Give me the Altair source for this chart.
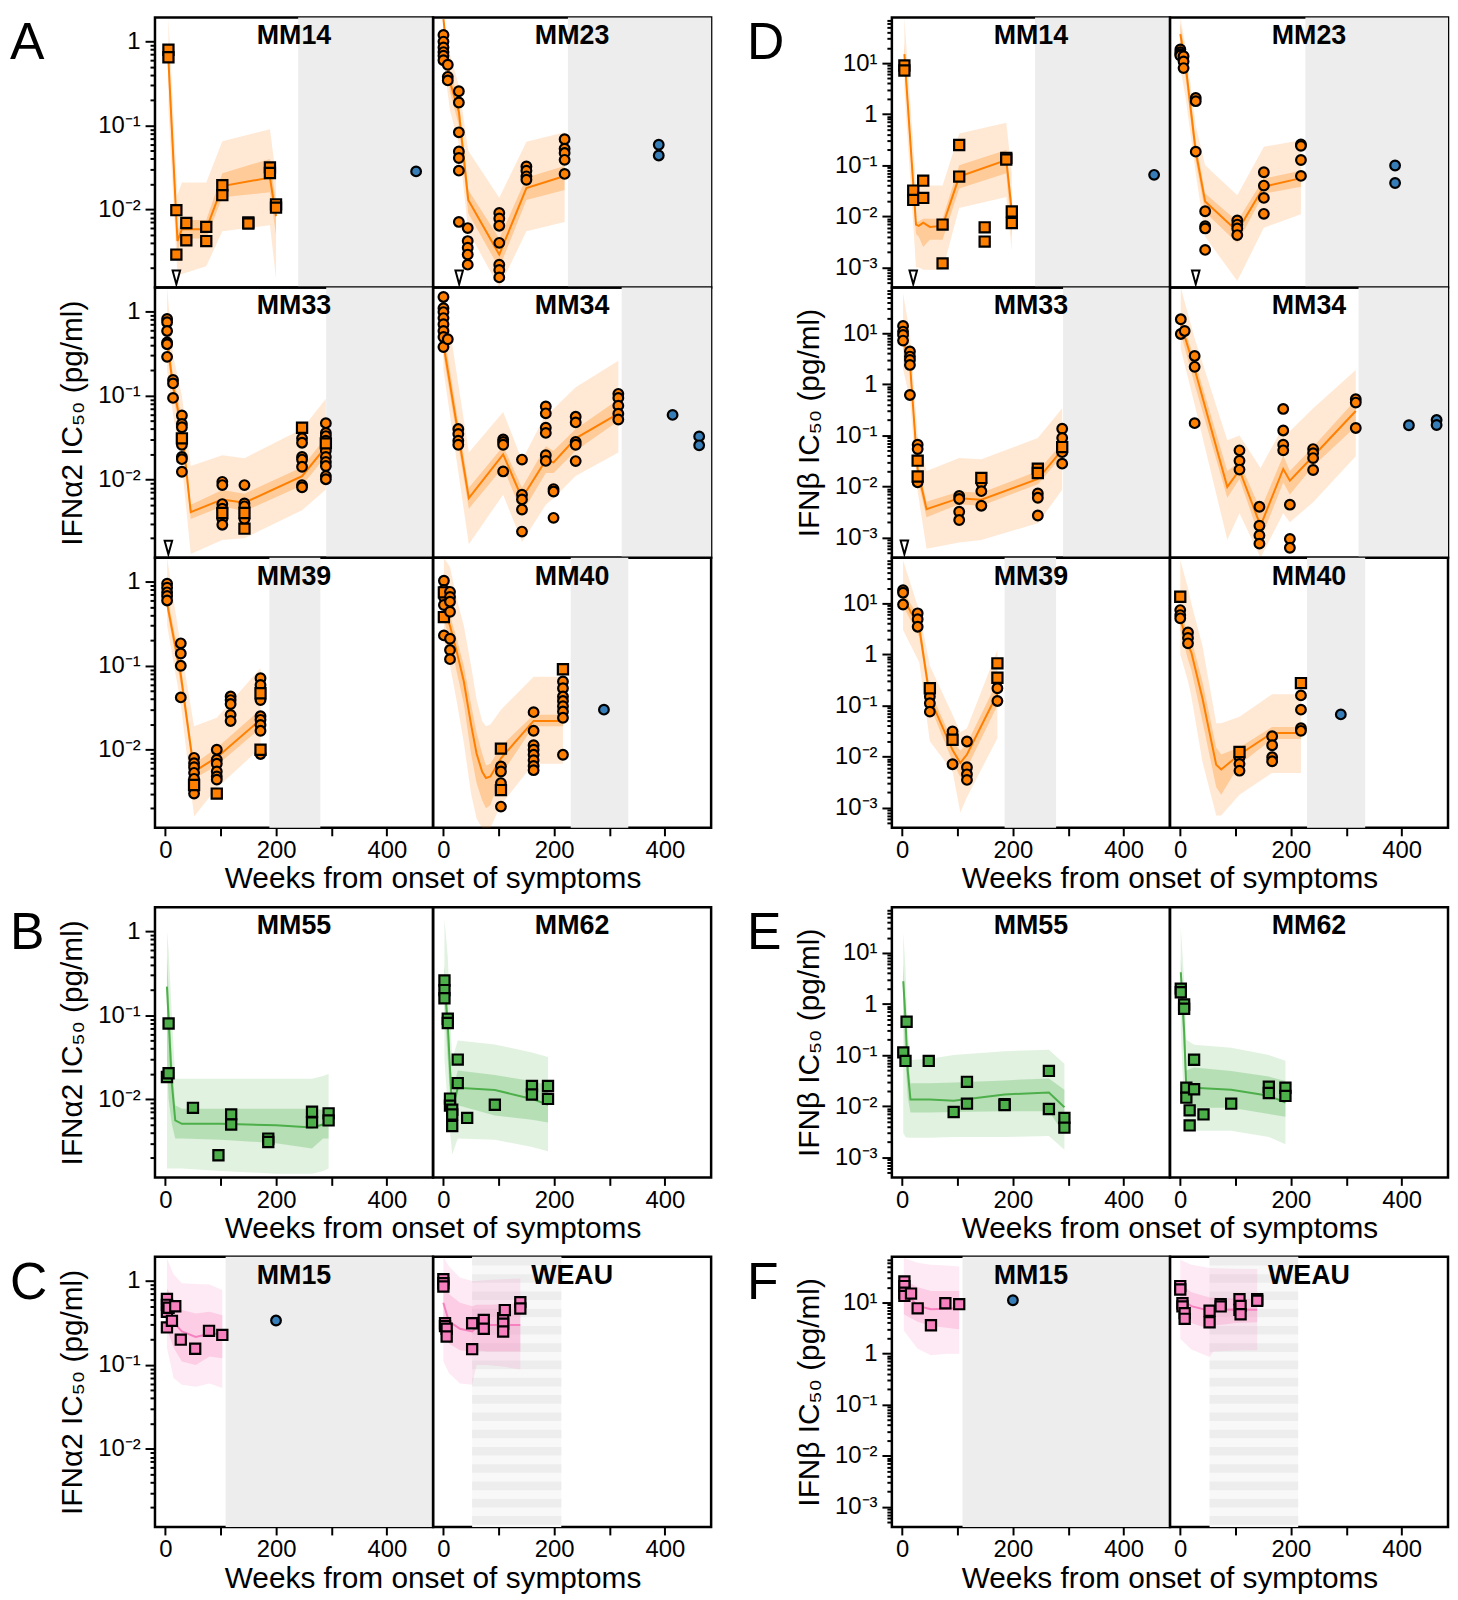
import altair as alt
import pandas as pd

FONT = "Liberation Sans"
ORANGE = "#FF7F00"
GREEN = "#4DAF4A"
PINK = "#F781BF"
BLUE = "#377EB8"
GRAY = "#EDEDED"

W, H = 280, 272
GAP_X, GAP_Y = 182, 80
XDOM = [-18.6, 483.6]
XTICKS = [0, 100, 200, 300, 400]
YDOM_A = [10 ** -2.931, 10 ** 0.2876]
YDOM_B = [10 ** -3.395, 10 ** 1.895]
YLAB_A = [(1, "1"), (0.1, "10⁻¹"), (0.01, "10⁻²")]
YLAB_B = [(10, "10¹"), (1, "1"), (0.1, "10⁻¹"), (0.01, "10⁻²"), (0.001, "10⁻³")]
TRI_Y_A = 0.00155
TRI_Y_B = 0.00064
TITLE_A = "IFNα2 IC₅₀ (pg/ml)"
TITLE_B = "IFNβ IC₅₀ (pg/ml)"
XTITLE = "Weeks from onset of symptoms"

# fit rows: (week, fit, inner_lo, inner_hi, outer_lo, outer_hi)
# points: (week, shape c/s, [values])

# ---------------- A : IFNa2, orange ----------------
A_MM14_FIT = [(5.7, 0.6, 0.35, 1.0, 0.15, 3.0), (22, 0.0042, 0.0032, 0.0055, 0.0016, 0.015),
              (30, 0.0058, 0.0045, 0.0075, 0.0017, 0.021), (74, 0.0058, 0.0045, 0.0075, 0.0021, 0.021),
              (103, 0.019, 0.014, 0.027, 0.0055, 0.065), (189, 0.024, 0.016, 0.04, 0.0065, 0.09),
              (200, 0.0083, 0.005, 0.012, 0.0015, 0.025)]
A_MM14_PTS = [(5.7, "s", [0.8, 0.65]), (20, "s", [0.0098, 0.0029]), (38, "s", [0.0069, 0.0043]),
              (74, "s", [0.0062, 0.0042]), (103, "s", [0.0194, 0.0148]), (150, "s", [0.0070, 0.0068]),
              (189, "s", [0.0317, 0.0272]), (200, "s", [0.0115, 0.0105])]
A_MM14_GRAY = (240, 600)
A_MM14_BLUE = [(453, 0.0284)]
A_MM14_TRI = [20]

A_MM23_FIT = [(0.2, 1.85, 1.2, 2.5, 0.6, 4.0), (12, 0.33, 0.25, 0.45, 0.15, 0.7),
              (28, 0.146, 0.1, 0.2, 0.06, 0.3), (45, 0.013, 0.009, 0.017, 0.0055, 0.05),
              (101, 0.0029, 0.002, 0.0045, 0.0011, 0.0138), (150, 0.018, 0.013, 0.024, 0.0055, 0.064),
              (219, 0.025, 0.017, 0.033, 0.0071, 0.083)]
A_MM23_PTS = [(0.2, "c", [1.2, 1.0, 0.85, 0.75, 0.68, 0.6]), (8, "c", [0.53, 0.38, 0.345]),
              (28, "c", [0.256, 0.188, 0.083, 0.049, 0.041, 0.029, 0.0071]),
              (44, "c", [0.006, 0.0042, 0.0035, 0.0029, 0.0022]),
              (101, "c", [0.0091, 0.0078, 0.0064, 0.0040, 0.0022, 0.0019, 0.00155]),
              (150, "c", [0.0326, 0.029, 0.0248, 0.0226]),
              (219, "c", [0.0686, 0.053, 0.047, 0.039, 0.0265])]
A_MM23_GRAY = (225, 600)
A_MM23_BLUE = [(389, 0.059), (389, 0.044)]
A_MM23_TRI = [28.6]

A_MM33_FIT = [(3.3, 0.45, 0.32, 0.65, 0.2, 3.0), (14, 0.13, 0.1, 0.17, 0.06, 0.3),
              (30, 0.04, 0.03, 0.055, 0.015, 0.1), (46, 0.0041, 0.0034, 0.005, 0.0013, 0.0145),
              (103, 0.0058, 0.0048, 0.0075, 0.0019, 0.0195), (143, 0.0053, 0.0042, 0.0068, 0.002, 0.018),
              (247, 0.011, 0.0085, 0.014, 0.0043, 0.04), (290, 0.0245, 0.019, 0.032, 0.0076, 0.092)]
A_MM33_PTS = [(3.3, "c", [0.82, 0.75, 0.59, 0.43, 0.41, 0.29]), (14, "c", [0.154, 0.14, 0.094]),
              (30, "c", [0.058, 0.046, 0.042, 0.026, 0.0186, 0.0175, 0.0124]), (30, "s", [0.031]),
              (103, "c", [0.0094, 0.0086, 0.0051, 0.0045, 0.0034, 0.0029]), (103, "s", [0.0040]),
              (143, "c", [0.0086, 0.0052, 0.0048, 0.0034]), (143, "s", [0.0040, 0.0026]),
              (247, "c", [0.031, 0.0275, 0.0186, 0.0173, 0.0142, 0.0086, 0.0081]), (247, "s", [0.0415]),
              (290, "c", [0.047, 0.036, 0.033, 0.029, 0.022, 0.0186, 0.0162, 0.0145, 0.011, 0.0101]),
              (290, "s", [0.027])]
A_MM33_GRAY = (290.6, 600)
A_MM33_BLUE = []
A_MM33_TRI = [5.6]

A_MM34_FIT = [(0.2, 0.41, 0.3, 0.6, 0.2, 3.0), (46, 0.006, 0.0045, 0.008, 0.0017, 0.021),
              (108, 0.02, 0.014, 0.025, 0.0066, 0.064), (142, 0.006, 0.004, 0.008, 0.0018, 0.017),
              (185, 0.017, 0.012, 0.025, 0.005, 0.06), (199, 0.016, 0.012, 0.022, 0.006, 0.07),
              (239, 0.031, 0.022, 0.04, 0.011, 0.126), (316, 0.061, 0.05, 0.09, 0.021, 0.26)]
A_MM34_PTS = [(0.2, "c", [1.5, 1.1, 0.99, 0.84, 0.71, 0.59, 0.5, 0.38]), (8, "c", [0.47]),
              (27, "c", [0.040, 0.035, 0.029, 0.026]), (108, "c", [0.030, 0.028, 0.026, 0.0125]),
              (142, "c", [0.0173, 0.0066, 0.0058, 0.0044, 0.0024]),
              (185, "c", [0.0745, 0.0615, 0.0415, 0.036, 0.0195, 0.0167]),
              (199, "c", [0.0077, 0.0072, 0.0035]), (239, "c", [0.056, 0.048, 0.028, 0.026, 0.0166]),
              (316, "c", [0.105, 0.094, 0.076, 0.061, 0.052])]
A_MM34_GRAY = (322, 600)
A_MM34_BLUE = [(414, 0.059), (462, 0.0327), (462, 0.0256)]
A_MM34_TRI = []

A_MM39_FIT = [(3.3, 0.55, 0.45, 0.7, 0.3, 3.0), (28, 0.078, 0.06, 0.1, 0.035, 0.17),
              (52, 0.0055, 0.0045, 0.0068, 0.0016, 0.019), (93, 0.0081, 0.0065, 0.0105, 0.0035, 0.024),
              (172, 0.0228, 0.018, 0.03, 0.0105, 0.094)]
A_MM39_PTS = [(3.3, "c", [0.95, 0.85, 0.75, 0.68, 0.6]), (28, "c", [0.185, 0.14, 0.10, 0.042]),
              (52, "c", [0.0080, 0.0069, 0.0062, 0.0053, 0.0045, 0.0034, 0.0030]), (52, "s", [0.0038]),
              (93, "c", [0.010, 0.0076, 0.0068, 0.0055, 0.0048, 0.0044]), (93, "s", [0.0030]),
              (118, "c", [0.043, 0.039, 0.035, 0.026, 0.022]),
              (172, "c", [0.071, 0.059, 0.039, 0.025, 0.0227, 0.0197, 0.0168, 0.0089]),
              (172, "s", [0.047, 0.010])]
A_MM39_GRAY = (188, 280)
A_MM39_BLUE = []
A_MM39_TRI = []

A_MM40_FIT = [(1, 0.48, 0.35, 0.65, 0.2, 3.0), (12, 0.3, 0.2, 0.4, 0.1, 1.5),
              (25, 0.14, 0.08, 0.2, 0.035, 0.6), (37, 0.065, 0.035, 0.1, 0.012, 0.3),
              (50, 0.02, 0.009, 0.035, 0.003, 0.1), (60, 0.009, 0.004, 0.016, 0.0015, 0.04),
              (70, 0.0055, 0.0025, 0.009, 0.0011, 0.022), (77, 0.0046, 0.002, 0.0065, 0.001, 0.019),
              (85, 0.0048, 0.0022, 0.0068, 0.001, 0.02), (104, 0.0079, 0.005, 0.011, 0.0022, 0.03),
              (163, 0.022, 0.019, 0.026, 0.0068, 0.074), (216, 0.022, 0.019, 0.026, 0.0068, 0.074)]
A_MM40_PTS = [(1, "c", [1.03, 0.8, 0.66, 0.53, 0.23]), (1, "s", [0.75, 0.38]),
              (12, "c", [0.76, 0.66, 0.58, 0.44, 0.21, 0.154, 0.12]),
              (104, "c", [0.0063, 0.0055, 0.0040, 0.0021]), (104, "s", [0.0103, 0.0033]),
              (163, "c", [0.028, 0.0168, 0.0113, 0.010, 0.0087, 0.0075, 0.0064, 0.0057]),
              (216, "c", [0.065, 0.054, 0.043, 0.038, 0.033, 0.0285, 0.024, 0.0087]), (216, "s", [0.091])]
A_MM40_GRAY = (230, 334)
A_MM40_BLUE = [(290, 0.030)]
A_MM40_TRI = []

# ---------------- D : IFNb, orange ----------------
D_MM14_FIT = [(4, 15, 9, 25, 3, 80), (25, 0.0069, 0.0045, 0.0075, 0.001, 0.04),
              (30, 0.0065, 0.004, 0.008, 0.001, 0.045), (38, 0.0075, 0.0025, 0.009, 0.0009, 0.04),
              (50, 0.0062, 0.0035, 0.009, 0.0009, 0.04), (73, 0.0065, 0.0035, 0.009, 0.0009, 0.04),
              (103, 0.06, 0.035, 0.1, 0.0145, 0.42), (188, 0.127, 0.07, 0.2, 0.024, 0.68),
              (198, 0.0125, 0.004, 0.02, 0.0021, 0.07)]
D_MM14_PTS = [(4, "s", [9.0, 7.2]), (20, "s", [0.032, 0.021]), (38, "s", [0.050, 0.023]),
              (73, "s", [0.0069, 0.0012]), (103, "s", [0.25, 0.060]), (149, "s", [0.0061, 0.0032]),
              (188, "s", [0.14, 0.13]), (198, "s", [0.0125, 0.0074])]
D_MM14_GRAY = (240, 600)
D_MM14_BLUE = [(455, 0.065)]
D_MM14_TRI = [20]

D_MM23_FIT = [(0.2, 37, 20, 60, 8, 100), (10, 8.5, 5, 12, 2, 20), (28, 0.185, 0.12, 0.3, 0.07, 0.6),
              (45, 0.0195, 0.012, 0.028, 0.004, 0.1), (103, 0.0051, 0.003, 0.008, 0.00054, 0.026),
              (151, 0.038, 0.028, 0.055, 0.006, 0.23), (218, 0.056, 0.038, 0.078, 0.011, 0.31)]
D_MM23_PTS = [(0.2, "c", [18.5, 16.4, 15, 14.1]), (6, "c", [13.7, 10.8, 8.0]), (28, "c", [2.08, 1.8, 0.185]),
              (45, "c", [0.0126, 0.0064, 0.0058, 0.0022]), (103, "c", [0.0083, 0.0069, 0.0058, 0.0043]),
              (151, "c", [0.073, 0.040, 0.023, 0.0112]), (218, "c", [0.257, 0.24, 0.127, 0.062])]
D_MM23_GRAY = (226, 600)
D_MM23_BLUE = [(388, 0.099), (388, 0.045)]
D_MM23_TRI = [28]

D_MM33_FIT = [(1.6, 7.4, 5, 11, 2, 60), (14, 2.6, 1.8, 3.5, 0.5, 10), (28, 0.021, 0.014, 0.03, 0.008, 0.1),
              (44, 0.0036, 0.0025, 0.005, 0.0006, 0.02), (103, 0.0059, 0.0045, 0.008, 0.0008, 0.036),
              (143, 0.0055, 0.0042, 0.0075, 0.0009, 0.034), (245, 0.014, 0.011, 0.02, 0.0019, 0.089),
              (289, 0.052, 0.04, 0.07, 0.0086, 0.34)]
D_MM33_PTS = [(1.6, "c", [13.9, 10.8, 9.3, 7.2]), (14, "c", [4.4, 3.5, 3.0, 2.4, 0.62]),
              (28, "c", [0.066, 0.054, 0.0121]), (28, "s", [0.032, 0.0157]),
              (103, "c", [0.0065, 0.0057, 0.0032, 0.0022]), (143, "c", [0.0118, 0.0081, 0.0042]),
              (143, "s", [0.0147]), (245, "c", [0.0073, 0.0060, 0.0027]), (245, "s", [0.0223, 0.0184]),
              (289, "c", [0.135, 0.089, 0.047, 0.028]), (289, "s", [0.059])]
D_MM33_GRAY = (290.6, 600)
D_MM33_BLUE = []
D_MM33_TRI = [4]

D_MM34_FIT = [(0.9, 15.7, 10, 22, 5, 80), (26, 2.0, 1.0, 3.0, 0.4, 8), (85, 0.0098, 0.006, 0.02, 0.0009, 0.08),
              (107, 0.021, 0.014, 0.03, 0.003, 0.1), (145, 0.0017, 0.0009, 0.0035, 0.0004, 0.023),
              (186, 0.022, 0.012, 0.04, 0.003, 0.15), (198, 0.013, 0.007, 0.02, 0.002, 0.12),
              (240, 0.039, 0.025, 0.06, 0.0049, 0.34), (317, 0.30, 0.15, 0.5, 0.039, 1.9)]
D_MM34_PTS = [(1, "c", [18.8, 9.7]), (8, "c", [11.1]), (26, "c", [3.6, 2.2, 0.174]),
              (107, "c", [0.051, 0.032, 0.0214]), (143, "c", [0.004, 0.0017, 0.0011, 0.00076]),
              (186, "c", [0.33, 0.125, 0.066, 0.051]), (198, "c", [0.0044, 0.00094, 0.00063]),
              (240, "c", [0.054, 0.045, 0.036, 0.021]), (317, "c", [0.51, 0.44, 0.14])]
D_MM34_GRAY = (322, 600)
D_MM34_BLUE = [(413, 0.158), (463, 0.2), (463, 0.16)]
D_MM34_TRI = []

D_MM39_FIT = [(1.6, 13, 9, 18, 3, 70), (31, 3.3, 2.2, 5, 0.7, 7), (50, 0.14, 0.1, 0.2, 0.02, 0.6),
              (91, 0.0134, 0.008, 0.02, 0.0051, 0.066), (105, 0.0075, 0.004, 0.013, 0.0008, 0.03),
              (117, 0.011, 0.006, 0.018, 0.0016, 0.036), (172, 0.17, 0.1, 0.3, 0.023, 1.23)]
D_MM39_PTS = [(1.6, "c", [18.2, 16.2, 9.5]), (28, "c", [6.4, 4.9, 3.5]), (50, "c", [0.15, 0.111, 0.076]),
              (50, "s", [0.218]), (91, "c", [0.031, 0.0071]), (91, "s", [0.0214]),
              (117, "c", [0.0198, 0.0062, 0.0045, 0.0035]), (172, "c", [0.218, 0.123]), (172, "s", [0.67, 0.35])]
D_MM39_GRAY = (185, 278)
D_MM39_BLUE = []
D_MM39_TRI = []

D_MM40_FIT = [(0, 5.1, 3, 8, 1, 70), (14, 1.5, 0.8, 2.5, 0.3, 20), (20, 1.1, 0.5, 2, 0.15, 10),
              (40, 0.14, 0.05, 0.3, 0.008, 1.5), (65, 0.0069, 0.0025, 0.015, 0.0007, 0.045),
              (74, 0.0056, 0.0018, 0.011, 0.0007, 0.045), (107, 0.011, 0.007, 0.015, 0.0018, 0.06),
              (166, 0.029, 0.022, 0.038, 0.0048, 0.167), (218, 0.029, 0.022, 0.038, 0.0048, 0.167)]
D_MM40_PTS = [(0, "c", [7.4, 5.9, 5.1]), (0, "s", [13.5]), (14, "c", [2.7, 2.1, 1.65]),
              (107, "c", [0.0097, 0.0072, 0.0053]), (107, "s", [0.0123]),
              (166, "c", [0.025, 0.0167, 0.0097, 0.0081]), (218, "c", [0.158, 0.083, 0.036, 0.032]),
              (218, "s", [0.275])]
D_MM40_GRAY = (229, 334)
D_MM40_BLUE = [(290, 0.067)]
D_MM40_TRI = []

# ---------------- B / E : green ----------------
B_MM55_FIT = [(3, 0.22, 0.03, 0.5, 0.0015, 1.0), (6, 0.09, 0.01, 0.2, 0.0015, 0.6),
              (12, 0.015, 0.005, 0.03, 0.0015, 0.1), (18, 0.0056, 0.0034, 0.0085, 0.0015, 0.0176),
              (30, 0.0051, 0.0034, 0.0077, 0.0015, 0.0176), (100, 0.0051, 0.0033, 0.0077, 0.0014, 0.0176),
              (200, 0.0049, 0.003, 0.0077, 0.0013, 0.0176), (265, 0.0046, 0.0026, 0.0077, 0.0013, 0.0176),
              (285, 0.005, 0.0034, 0.0075, 0.0014, 0.019), (295, 0.0058, 0.0034, 0.0075, 0.0015, 0.02)]
B_MM55_PTS = [(3, "s", [0.0184]), (6, "s", [0.0204, 0.08]), (50, "s", [0.0079]), (96, "s", [0.00215]),
              (119, "s", [0.0066, 0.005]), (186, "s", [0.0034, 0.0031]), (265, "s", [0.0071, 0.0053]),
              (295, "s", [0.0068, 0.0056])]

B_MM62_FIT = [(2, 0.25, 0.12, 0.4, 0.03, 1.4), (8, 0.076, 0.03, 0.12, 0.008, 0.5),
              (16, 0.0071, 0.004, 0.012, 0.0022, 0.03), (26, 0.0137, 0.0085, 0.022, 0.0034, 0.05),
              (93, 0.0129, 0.0064, 0.0194, 0.0033, 0.045), (160, 0.0101, 0.0057, 0.0165, 0.0027, 0.036),
              (189, 0.0086, 0.0053, 0.0147, 0.0024, 0.032)]
B_MM62_PTS = [(2, "s", [0.26, 0.20, 0.16]), (8, "s", [0.091, 0.081]), (12, "s", [0.0102, 0.0084]),
              (16, "s", [0.0075, 0.0066, 0.0048]), (26, "s", [0.0297, 0.0156]), (43, "s", [0.006]),
              (93, "s", [0.0086]), (160, "s", [0.0144, 0.0114]), (189, "s", [0.0144, 0.0101])]

E_MM55_FIT = [(2, 2.8, 0.5, 6, 0.003, 25), (6, 0.5, 0.08, 1, 0.0025, 5), (10, 0.05, 0.015, 0.1, 0.0024, 0.3),
              (15, 0.0135, 0.0075, 0.028, 0.0024, 0.08), (50, 0.0135, 0.0075, 0.028, 0.0024, 0.085),
              (93, 0.0128, 0.0077, 0.029, 0.0025, 0.1), (185, 0.017, 0.008, 0.032, 0.0025, 0.119),
              (265, 0.0185, 0.008, 0.035, 0.0026, 0.128), (293, 0.0095, 0.0028, 0.021, 0.0014, 0.068)]
E_MM55_PTS = [(2, "s", [0.113]), (6, "s", [0.077]), (8, "s", [0.45]), (48, "s", [0.077]), (93, "s", [0.0077]),
              (117, "s", [0.030, 0.0112]), (185, "s", [0.0109, 0.0105]), (265, "s", [0.049, 0.0088]),
              (293, "s", [0.0059, 0.0038])]

E_MM62_FIT = [(1, 4.2, 1.5, 8, 0.3, 32), (7, 0.3, 0.1, 0.8, 0.01, 3), (11, 0.0215, 0.01, 0.05, 0.0033, 0.2),
              (25, 0.023, 0.0093, 0.057, 0.0033, 0.16), (92, 0.021, 0.0093, 0.049, 0.0033, 0.14),
              (160, 0.016, 0.007, 0.038, 0.0025, 0.1), (190, 0.0118, 0.0062, 0.031, 0.0018, 0.078)]
E_MM62_PTS = [(1, "s", [2.0, 1.7]), (7, "s", [0.98, 0.81]), (11, "s", [0.023, 0.0147]),
              (17, "s", [0.0083, 0.0042]), (25, "s", [0.081, 0.0215]), (42, "s", [0.0069]),
              (92, "s", [0.0112]), (160, "s", [0.024, 0.0181]), (190, "s", [0.023, 0.0159])]

# ---------------- C / F : pink ----------------
C_MM15_FIT = [(3, 0.48, 0.27, 0.82, 0.16, 1.86), (15, 0.32, 0.16, 0.6, 0.07, 1.2),
              (30, 0.25, 0.11, 0.45, 0.058, 0.94), (55, 0.215, 0.1, 0.41, 0.055, 0.92),
              (80, 0.235, 0.126, 0.43, 0.06, 0.91), (103, 0.235, 0.12, 0.39, 0.053, 0.78)]
C_MM15_PTS = [(3, "s", [0.61, 0.52, 0.43, 0.28]), (6, "s", [0.48]), (12, "s", [0.335]), (18, "s", [0.50]),
              (28, "s", [0.20]), (54, "s", [0.156]), (79, "s", [0.255]), (103, "s", [0.228])]
C_MM15_GRAY = (109, 600)
C_MM15_BLUE = [(200, 0.338)]

C_WEAU_FIT = [(0, 0.55, 0.25, 1.03, 0.11, 1.94), (10, 0.33, 0.18, 0.7, 0.08, 1.5),
              (30, 0.27, 0.15, 0.55, 0.06, 1.1), (52, 0.25, 0.145, 0.5, 0.058, 1.0),
              (60, 0.28, 0.15, 0.52, 0.1, 1.0), (80, 0.30, 0.145, 0.52, 0.1, 1.03),
              (110, 0.30, 0.145, 0.53, 0.095, 1.05), (139, 0.30, 0.145, 0.54, 0.088, 1.07)]
C_WEAU_PTS = [(0, "s", [1.05, 0.94, 0.86]), (3, "s", [0.314, 0.29]), (6, "s", [0.27, 0.218]),
              (52, "s", [0.314, 0.154]), (73, "s", [0.344, 0.27]), (108, "s", [0.36, 0.31, 0.25]),
              (111, "s", [0.45]), (139, "s", [0.56, 0.47])]
C_WEAU_STRIPES = (52, 213)

F_MM15_FIT = [(3, 16.8, 5.9, 28, 2.8, 74.5), (28, 8.6, 4.2, 20, 1.25, 60), (52, 7.4, 3.5, 16.8, 0.93, 55),
              (80, 7.6, 3.2, 16.8, 1.0, 53), (103, 7.7, 3.0, 16.8, 1.0, 51)]
F_MM15_PTS = [(4, "s", [26, 21, 15.6, 13.5]), (16, "s", [15]), (28, "s", [7.7]), (52, "s", [3.6]),
              (78, "s", [9.7]), (103, "s", [9.3])]
F_MM15_GRAY = (109, 600)
F_MM15_BLUE = [(200, 11.1)]

F_WEAU_FIT = [(0, 12.5, 6.4, 24, 1.95, 69), (20, 8.5, 4, 16, 1.2, 55), (53, 6.9, 3.05, 12.5, 0.86, 47.5),
              (60, 7.2, 3.5, 12.5, 1.1, 47), (100, 7.3, 4, 12, 1.15, 46), (139, 7.2, 4.1, 11.6, 1.16, 45.5)]
F_WEAU_PTS = [(0, "s", [21, 18]), (4, "s", [9.7, 8.4]), (8, "s", [6.2, 4.8]), (53, "s", [6.9, 4.1]),
              (73, "s", [9.3, 8.4]), (107, "s", [11.6, 7.2]), (109, "s", [8.6, 5.9]), (139, "s", [11.6, 10.8])]
F_WEAU_STRIPES = (53, 213)

TRI_SHAPE = "M-0.55,-1L0.55,-1L0,1Z"


def x_axis():
    test = "datum.value % 200 == 0"
    return alt.Axis(values=XTICKS, labelExpr=f"{test} ? datum.label : ''",
                    labelFontSize={"condition": {"test": test, "value": 24}, "value": 0},
                    tickSize=8, tickWidth=2, tickColor="black", labelFont=FONT,
                    labelColor="black", labelPadding=3, labelOverlap=False, labelFlush=False,
                    title=None, grid=False, domain=False)


def y_axis(ydom, labs, title):
    lo, hi = ydom
    vals = []
    for k in range(-5, 3):
        for m in range(1, 10):
            v = float(m) * (10.0 ** k) if m > 1 else 10.0 ** k
            if lo <= v <= hi:
                vals.append(float(f"{v:.6g}"))
    expr = ""
    for v, t in labs:
        expr += f"datum.value == {v} ? '{t}' : "
    expr += "''"
    test = " || ".join(f"datum.value == {v}" for v, _ in labs)
    kw = dict(values=vals, labelExpr=expr,
              tickSize={"condition": {"test": test, "value": 10}, "value": 5},
              labelFontSize={"condition": {"test": test, "value": 24}, "value": 0},
              tickWidth=2, tickColor="black", labelFont=FONT, labelColor="black",
              labelPadding=5, labelOverlap=False, labelFlush=False, grid=False, domain=False)
    if title:
        kw.update(title=title, titleFont=FONT, titleFontSize=30, titleFontWeight="normal",
                  titleColor="black", titleX=-83, titleY=H / 2, titleAngle=270,
                  titleAlign="center", titleBaseline="middle")
    else:
        kw.update(title=None)
    return alt.Axis(**kw)


def panel(name, fit, pts, color, ydom, labs, tri_y, gray=None, stripes=None, blue=(), tri=(),
          show_y=False, ytitle=None, show_x=False, letter=None, xtitle=False):
    xs = alt.Scale(domain=XDOM, nice=False, zero=False, clamp=True)
    ys = alt.Scale(type="log", domain=ydom, nice=False, clamp=True)
    xax = x_axis() if show_x else None
    yax = y_axis(ydom, labs, ytitle) if show_y else None

    def X(f):
        return alt.X(f, type="quantitative", scale=xs, axis=xax)

    def Y(f):
        return alt.Y(f, type="quantitative", scale=ys, axis=yax)

    pxw = W / (XDOM[1] - XDOM[0])
    layers = []
    if gray:
        gdf = pd.DataFrame({"a": [gray[0]], "b": [gray[1]]})
        layers.append(alt.Chart(gdf).mark_rect(color=GRAY).encode(
            x=X("a"), x2="b", y=alt.value(0), y2=alt.value(H)))
    if stripes:
        sdf = pd.DataFrame({"a": [stripes[0]], "b": [stripes[1]]})
        layers.append(alt.Chart(sdf).mark_rect(color="#F8F8F8").encode(
            x=X("a"), x2="b", y=alt.value(0), y2=alt.value(H)))
        mdf = pd.DataFrame({"m": [(stripes[0] + stripes[1]) / 2]})
        layers.append(alt.Chart(mdf).mark_rule(color="#EDEDED", strokeWidth=(stripes[1] - stripes[0]) * pxw,
                                               strokeDash=[8.7, 8.7], clip=True).encode(
            x=X("m"), y=alt.value(0), y2=alt.value(H)))
    fdf = pd.DataFrame(fit, columns=["w", "f", "il", "ih", "ol", "oh"])
    layers.append(alt.Chart(fdf).mark_area(color=color, opacity=0.17).encode(
        x=X("w"), y=Y("ol"), y2="oh"))
    layers.append(alt.Chart(fdf).mark_area(color=color, opacity=0.28).encode(
        x=X("w"), y=Y("il"), y2="ih"))
    layers.append(alt.Chart(fdf).mark_line(color=color, strokeWidth=2).encode(
        x=X("w"), y=Y("f")))
    if tri:
        tdf = pd.DataFrame({"w": list(tri), "v": [tri_y] * len(tri)})
        layers.append(alt.Chart(tdf).mark_point(shape=TRI_SHAPE, filled=True, fill="white",
                                                stroke="black", strokeWidth=2, size=190, opacity=1).encode(
            x=X("w"), y=Y("v")))
    if blue:
        bdf = pd.DataFrame(list(blue), columns=["w", "v"])
        layers.append(alt.Chart(bdf).mark_point(shape="circle", filled=True, fill=BLUE, stroke="black",
                                                strokeWidth=2.2, size=95, opacity=1).encode(
            x=X("w"), y=Y("v")))
    rows = [(w, s, v) for (w, s, vals) in pts for v in vals]
    pdf = pd.DataFrame(rows, columns=["w", "s", "v"])
    layers.append(alt.Chart(pdf).mark_point(filled=True, fill=color, stroke="black", strokeWidth=2.2,
                                            opacity=1).encode(
        x=X("w"), y=Y("v"),
        shape=alt.Shape("s:N", scale=alt.Scale(domain=["c", "s"], range=["circle", "square"]), legend=None),
        size=alt.Size("s:N", scale=alt.Scale(domain=["c", "s"], range=[95, 105]), legend=None)))
    ndf = pd.DataFrame({"t": [name]})
    layers.append(alt.Chart(ndf).mark_text(font=FONT, fontSize=27, fontWeight="bold", color="black",
                                           align="center", baseline="top").encode(
        text="t:N", x=alt.value(W / 2), y=alt.value(6)))
    if letter:
        ldf = pd.DataFrame({"t": [letter]})
        layers.append(alt.Chart(ldf).mark_text(font=FONT, fontSize=52, color="black", align="left",
                                               baseline="top").encode(
            text="t:N", x=alt.value(-146), y=alt.value(1)))
    if xtitle:
        xdf = pd.DataFrame({"t": [XTITLE]})
        layers.append(alt.Chart(xdf).mark_text(font=FONT, fontSize=30, color="black", align="center",
                                               baseline="alphabetic").encode(
            text="t:N", x=alt.value(W), y=alt.value(H + 61)))
    return alt.layer(*layers).properties(width=W, height=H)


def spacer(w, h):
    sdf = pd.DataFrame({"z": [0]})
    return alt.Chart(sdf).mark_point(opacity=0, size=0).encode(
        x=alt.value(w / 2), y=alt.value(h / 2)
    ).properties(width=w, height=h, view=alt.ViewBackground(strokeOpacity=0, strokeWidth=0))


def group_rows(rows, color, ydom, labs, tri_y, letter, ytitle):
    out_rows = []
    nrow = len(rows)
    mid = nrow // 2
    for ri, row in enumerate(rows):
        charts = []
        for ci, p in enumerate(row):
            charts.append(panel(p["name"], p["fit"], p["pts"], color, ydom, labs, tri_y,
                                gray=p.get("gray"), stripes=p.get("stripes"),
                                blue=p.get("blue", ()), tri=p.get("tri", ()),
                                show_y=(ci == 0), ytitle=(ytitle if (ci == 0 and ri == mid) else None),
                                show_x=(ri == nrow - 1), letter=(letter if (ri == 0 and ci == 0) else None),
                                xtitle=(ri == nrow - 1 and ci == 0)))
        out_rows.append(charts)
    return out_rows


A_ROWS = [
    [dict(name="MM14", fit=A_MM14_FIT, pts=A_MM14_PTS, gray=A_MM14_GRAY, blue=A_MM14_BLUE, tri=A_MM14_TRI),
     dict(name="MM23", fit=A_MM23_FIT, pts=A_MM23_PTS, gray=A_MM23_GRAY, blue=A_MM23_BLUE, tri=A_MM23_TRI)],
    [dict(name="MM33", fit=A_MM33_FIT, pts=A_MM33_PTS, gray=A_MM33_GRAY, blue=A_MM33_BLUE, tri=A_MM33_TRI),
     dict(name="MM34", fit=A_MM34_FIT, pts=A_MM34_PTS, gray=A_MM34_GRAY, blue=A_MM34_BLUE, tri=A_MM34_TRI)],
    [dict(name="MM39", fit=A_MM39_FIT, pts=A_MM39_PTS, gray=A_MM39_GRAY, blue=A_MM39_BLUE, tri=A_MM39_TRI),
     dict(name="MM40", fit=A_MM40_FIT, pts=A_MM40_PTS, gray=A_MM40_GRAY, blue=A_MM40_BLUE, tri=A_MM40_TRI)],
]
D_ROWS = [
    [dict(name="MM14", fit=D_MM14_FIT, pts=D_MM14_PTS, gray=D_MM14_GRAY, blue=D_MM14_BLUE, tri=D_MM14_TRI),
     dict(name="MM23", fit=D_MM23_FIT, pts=D_MM23_PTS, gray=D_MM23_GRAY, blue=D_MM23_BLUE, tri=D_MM23_TRI)],
    [dict(name="MM33", fit=D_MM33_FIT, pts=D_MM33_PTS, gray=D_MM33_GRAY, blue=D_MM33_BLUE, tri=D_MM33_TRI),
     dict(name="MM34", fit=D_MM34_FIT, pts=D_MM34_PTS, gray=D_MM34_GRAY, blue=D_MM34_BLUE, tri=D_MM34_TRI)],
    [dict(name="MM39", fit=D_MM39_FIT, pts=D_MM39_PTS, gray=D_MM39_GRAY, blue=D_MM39_BLUE, tri=D_MM39_TRI),
     dict(name="MM40", fit=D_MM40_FIT, pts=D_MM40_PTS, gray=D_MM40_GRAY, blue=D_MM40_BLUE, tri=D_MM40_TRI)],
]
B_ROWS = [[dict(name="MM55", fit=B_MM55_FIT, pts=B_MM55_PTS), dict(name="MM62", fit=B_MM62_FIT, pts=B_MM62_PTS)]]
E_ROWS = [[dict(name="MM55", fit=E_MM55_FIT, pts=E_MM55_PTS), dict(name="MM62", fit=E_MM62_FIT, pts=E_MM62_PTS)]]
C_ROWS = [[dict(name="MM15", fit=C_MM15_FIT, pts=C_MM15_PTS, gray=C_MM15_GRAY, blue=C_MM15_BLUE),
           dict(name="WEAU", fit=C_WEAU_FIT, pts=C_WEAU_PTS, stripes=C_WEAU_STRIPES)]]
F_ROWS = [[dict(name="MM15", fit=F_MM15_FIT, pts=F_MM15_PTS, gray=F_MM15_GRAY, blue=F_MM15_BLUE),
           dict(name="WEAU", fit=F_WEAU_FIT, pts=F_WEAU_PTS, stripes=F_WEAU_STRIPES)]]

gA = group_rows(A_ROWS, ORANGE, YDOM_A, YLAB_A, TRI_Y_A, "A", TITLE_A)
gD = group_rows(D_ROWS, ORANGE, YDOM_B, YLAB_B, TRI_Y_B, "D", TITLE_B)
gB = group_rows(B_ROWS, GREEN, YDOM_A, YLAB_A, TRI_Y_A, "B", TITLE_A)
gE = group_rows(E_ROWS, GREEN, YDOM_B, YLAB_B, TRI_Y_B, "E", TITLE_B)
gC = group_rows(C_ROWS, PINK, YDOM_A, YLAB_A, TRI_Y_A, "C", TITLE_A)
gF = group_rows(F_ROWS, PINK, YDOM_B, YLAB_B, TRI_Y_B, "F", TITLE_B)

cells = []
for ri in range(len(gA)):
    cells += [gA[ri][0], gA[ri][1], spacer(GAP_X, H), gD[ri][0], gD[ri][1]]
cells += [spacer(W, GAP_Y), spacer(W, GAP_Y), spacer(GAP_X, GAP_Y), spacer(W, GAP_Y), spacer(W, GAP_Y)]
cells += [gB[0][0], gB[0][1], spacer(GAP_X, H), gE[0][0], gE[0][1]]
cells += [spacer(W, GAP_Y), spacer(W, GAP_Y), spacer(GAP_X, GAP_Y), spacer(W, GAP_Y), spacer(W, GAP_Y)]
cells += [gC[0][0], gC[0][1], spacer(GAP_X, H), gF[0][0], gF[0][1]]

chart = alt.concat(*cells, columns=5, spacing=0, bounds="flush").properties(
    padding=0, background="white"
).configure(font=FONT).configure_view(stroke="black", strokeWidth=2.5)

chart.save("out.html", embed_options={"renderer": "svg", "actions": False})
